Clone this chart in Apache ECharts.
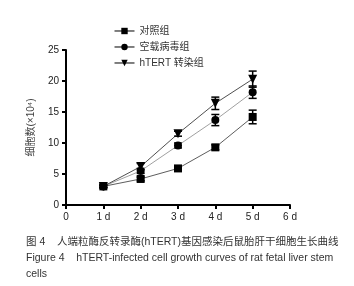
<!DOCTYPE html>
<html>
<head>
<meta charset="utf-8">
<script src="https://cdn.jsdelivr.net/npm/echarts@6/dist/echarts.min.js"></script>
<style>
  html, body { margin: 0; padding: 0; background: #fff; }
  #main { width: 354px; height: 286px; }
</style>
</head>
<body>
<div id="main"></div>
<script>
// 天数 (x 轴)
var days = [1, 2, 3, 4, 5];
var seriesNames = ['对照组', '空载病毒组', 'hTERT 转染组'];
// 细胞数 ×10^4
var controlVals = [3.0, 4.2, 5.9, 9.3, 14.2];
var vectorVals = [3.0, 5.5, 9.6, 13.7, 18.2];
var htertVals = [3.0, 6.2, 11.5, 16.4, 20.3];
// 误差 (±)
var controlErr = [0.2, 0.3, 0.3, 0.4, 1.1];
var vectorErr = [0.2, 0.4, 0.4, 0.9, 1.0];
var htertErr = [0.2, 0.5, 0.4, 1.0, 1.3];

var captionCn = '图 4    人端粒酶反转录酶(hTERT)基因感染后鼠胎肝干细胞生长曲线';
var captionEn1 = 'Figure 4    hTERT-infected cell growth curves of rat fetal liver stem';
var captionEn2 = 'cells';

var cjk = '"Liberation Sans", Arial, "Noto Sans CJK SC", sans-serif';

function pairs(vals) {
    var arr = [];
    for (var i = 0; i < days.length; i++) arr.push([days[i], vals[i]]);
    return arr;
}

function errSeries(vals, errs) {
    var data = [];
    for (var i = 0; i < days.length; i++) {
        data.push([days[i], vals[i] - errs[i], vals[i] + errs[i]]);
    }
    return {
        type: 'custom',
        silent: true,
        z: 1,
        data: data,
        renderItem: function (params, api) {
            var x = api.value(0);
            var lo = api.coord([x, api.value(1)]);
            var hi = api.coord([x, api.value(2)]);
            var w = 4;
            var st = {stroke: '#000', lineWidth: 1.5};
            return {
                type: 'group',
                children: [
                    {type: 'line', shape: {x1: lo[0], y1: lo[1], x2: hi[0], y2: hi[1]}, style: st},
                    {type: 'line', shape: {x1: hi[0] - w, y1: hi[1], x2: hi[0] + w, y2: hi[1]}, style: st},
                    {type: 'line', shape: {x1: lo[0] - w, y1: lo[1], x2: lo[0] + w, y2: lo[1]}, style: st}
                ]
            };
        }
    };
}

function lineSeries(name, vals, symbol, size, color) {
    return {
        name: name,
        type: 'line',
        data: pairs(vals),
        symbol: symbol,
        symbolSize: size,
        z: 3,
        lineStyle: {color: color, width: 0.8},
        itemStyle: {color: '#000', borderWidth: 0}
    };
}

var chart = echarts.init(document.getElementById('main'));
var option = {
    animation: false,
    backgroundColor: '#fff',
    grid: {left: 66, right: 64, top: 50, bottom: 81},
    legend: {
        orient: 'vertical',
        left: 109,
        top: 21,
        itemGap: 6,
        itemWidth: 20,
        itemHeight: 8,
        lineStyle: {color: '#000', width: 1},
        textStyle: {fontSize: 10, color: '#333', fontFamily: cjk},
        data: seriesNames
    },
    xAxis: {
        type: 'value',
        min: 0,
        max: 6,
        interval: 1,
        splitLine: {show: false},
        axisLine: {onZero: false, lineStyle: {color: '#000', width: 2}},
        axisTick: {show: true, length: 4, lineStyle: {color: '#000', width: 2}},
        axisLabel: {
            color: '#222', fontSize: 10, fontFamily: cjk, margin: 7,
            formatter: function (v) { return v === 0 ? '0' : v + ' d'; }
        }
    },
    yAxis: {
        type: 'value',
        min: 0,
        max: 25,
        interval: 5,
        name: '细胞数(×10⁴)',
        nameLocation: 'middle',
        nameGap: 30,
        nameTextStyle: {fontSize: 10, color: '#444', fontFamily: cjk},
        splitLine: {show: false},
        axisLine: {show: true, lineStyle: {color: '#000', width: 2}},
        axisTick: {show: true, length: 4, lineStyle: {color: '#000', width: 2}},
        axisLabel: {color: '#222', fontSize: 10, fontFamily: cjk, margin: 7}
    },
    series: [
        errSeries(controlVals, controlErr),
        errSeries(vectorVals, vectorErr),
        errSeries(htertVals, htertErr),
        lineSeries(seriesNames[0], controlVals, 'rect', 8, '#333'),
        lineSeries(seriesNames[1], vectorVals, 'circle', 8, '#888'),
        lineSeries(seriesNames[2], htertVals, 'path://M0,0 L10,0 L5,9 Z', 9, '#222')
    ],
    graphic: [
        {type: 'text', left: 26, top: 237, style: {text: captionCn, fontSize: 10.5, fill: '#333', fontFamily: cjk}},
        {type: 'text', left: 26, top: 253, style: {text: captionEn1, fontSize: 10.5, fill: '#333', fontFamily: cjk}},
        {type: 'text', left: 26, top: 269, style: {text: captionEn2, fontSize: 10.5, fill: '#333', fontFamily: cjk}}
    ]
};
chart.setOption(option);
</script>
</body>
</html>
